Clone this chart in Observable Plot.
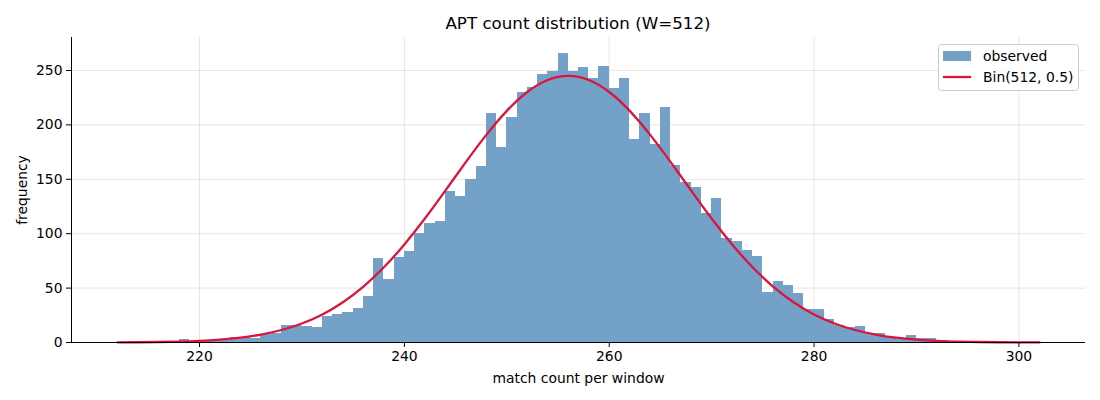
<!DOCTYPE html>
<html>
<head>
<meta charset="utf-8">
<script src="https://cdn.jsdelivr.net/npm/d3@7"></script>
<script src="https://cdn.jsdelivr.net/npm/@observablehq/plot@0.6"></script>
<style>
  html, body { margin: 0; padding: 0; background: #fff; }
  #chart svg { display: block; }
  #chart svg [aria-label="x-axis label"] text, #chart svg [aria-label="y-axis label"] text { font-size: 13.9px; }
</style>
</head>
<body>
<div id="chart"></div>
<script>
const title = "APT count distribution (W=512)";
const xLabel = "match count per window";
const yLabel = "frequency";
const seriesNames = ["observed", "Bin(512, 0.5)"];
const xTicks = [220, 240, 260, 280, 300];
const yTicks = [0, 50, 100, 150, 200, 250];

const binStarts = [218,219,220,221,222,223,224,225,226,227,228,229,230,231,232,233,234,235,236,237,238,239,240,241,242,243,244,245,246,247,248,249,250,251,252,253,254,255,256,257,258,259,260,261,262,263,264,265,266,267,268,269,270,271,272,273,274,275,276,277,278,279,280,281,282,283,284,285,286,287,288,289,290,291,292,293];
const counts    = [3,1,1,2,2,5,5,4,7,8,16,16,15,14,24,26,28,31,42,77,58,78,84,100,109,111,139,134,150,162,210,179,207,230,234,246,249,266,249,253,243,254,233,243,187,210,182,216,163,147,142,119,132,96,93,85,79,46,56,52,45,30,30,21,16,14,15,8,8,5,3,6,4,4,2,1];

const curveX = [212,214,216,218,220,222,224,226,228,230,232,234,236,238,240,242,244,246,248,250,252,254,256,258,260,262,264,266,268,270,272,274,276,278,280,282,284,286,288,290,292,294,296,298,300,302];
const curveY = [0.13,0.25,0.47,0.87,1.55,2.7,4.5,7.3,11.5,17.5,25.8,37.0,51.4,69.1,90.1,113.9,139.6,165.8,190.8,212.9,230.2,241.2,245,241.2,230.2,212.9,190.8,165.8,139.6,113.9,90.1,69.1,51.4,37.0,25.8,17.5,11.5,7.3,4.5,2.7,1.55,0.87,0.47,0.25,0.13,0.06];

const bars = binStarts.map((b, i) => ({x1: b, x2: b + 1, count: counts[i]}));
const curve = curveX.map((x, i) => ({x, y: curveY[i]}));

const W = 1100, H = 400;
const mL = 71, mR = 15, mT = 37, mB = 58;
const barColor = "rgb(116,161,199)";
const lineColor = "crimson";
const FS = 13.9;

const plot = Plot.plot({
  width: W, height: H,
  marginLeft: mL, marginRight: mR, marginTop: mT, marginBottom: mB,
  style: {fontFamily: "DejaVu Sans, sans-serif", fontSize: FS + "px", color: "#000", background: "#fff"},
  x: {domain: [207.5, 306.5]},
  y: {domain: [0, 280.3]},
  marks: [
    Plot.gridX(xTicks, {stroke: "#b0b0b0", strokeOpacity: 0.3, strokeWidth: 1}),
    Plot.gridY(yTicks, {stroke: "#b0b0b0", strokeOpacity: 0.3, strokeWidth: 1}),
    Plot.rectY(bars, {x1: "x1", x2: "x2", y: "count", fill: barColor, inset: 0, shapeRendering: "crispEdges"}),
    Plot.line(curve, {x: "x", y: "y", stroke: lineColor, strokeWidth: 2.3, curve: "natural"}),
    Plot.ruleY([0], {stroke: "#000", strokeWidth: 1}),
    Plot.ruleX([207.5], {stroke: "#000", strokeWidth: 1}),
    Plot.axisX({ticks: xTicks, tickSize: 5, tickPadding: 4, label: xLabel, labelAnchor: "center", labelArrow: "none", labelOffset: 40, fontSize: FS}),
    Plot.axisY({ticks: yTicks, tickSize: 5, tickPadding: 4, label: yLabel, labelAnchor: "center", labelArrow: "none", labelOffset: 54, fontSize: FS})
  ]
});

document.getElementById("chart").appendChild(plot);

const svg = d3.select(plot);
svg.append("text")
  .attr("x", mL + (W - mL - mR) / 2).attr("y", 29)
  .attr("text-anchor", "middle")
  .attr("font-family", "DejaVu Sans, sans-serif")
  .attr("font-size", 16.7).attr("fill", "#000")
  .text(title);

const lg = svg.append("g").attr("font-family", "DejaVu Sans, sans-serif").attr("font-size", FS).attr("text-anchor", "start");
lg.append("rect").attr("x", 938.5).attr("y", 44.5).attr("width", 140).attr("height", 46).attr("rx", 3)
  .attr("fill", "#fff").attr("fill-opacity", 0.8).attr("stroke", "#cccccc");
lg.append("rect").attr("x", 943).attr("y", 51).attr("width", 28).attr("height", 10)
  .attr("fill", barColor);
lg.append("text").attr("x", 983).attr("y", 61).attr("fill", "#000").attr("text-anchor", "start").text(seriesNames[0]);
lg.append("line").attr("x1", 943).attr("x2", 971).attr("y1", 77).attr("y2", 77)
  .attr("stroke", lineColor).attr("stroke-width", 2.3);
lg.append("text").attr("x", 983).attr("y", 82).attr("fill", "#000").attr("text-anchor", "start").text(seriesNames[1]);
</script>
</body>
</html>
